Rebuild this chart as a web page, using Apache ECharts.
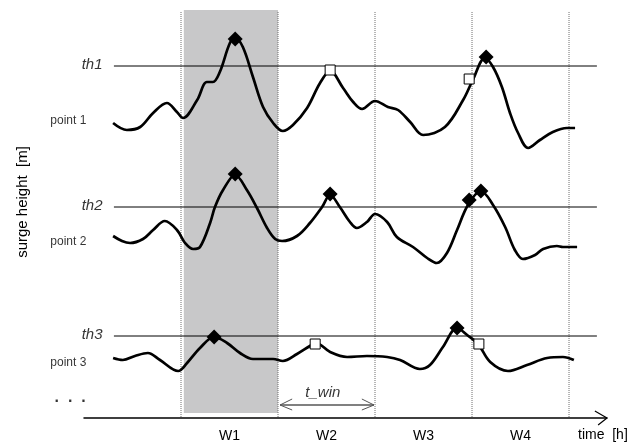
<!DOCTYPE html>
<html><head><meta charset="utf-8">
<script src="https://cdn.jsdelivr.net/npm/echarts@6/dist/echarts.min.js"></script>
<style>html,body{margin:0;padding:0;background:#fff}#c{width:643px;height:445px}</style>
</head><body><div id="c"></div>
<script>
// ---- data (time in hours, surge height in m; schematic) ----
const windowBounds = [0, 24, 48, 72, 96];
const windowLabels = ['W1', 'W2', 'W3', 'W4'];
const thresholds = [35.2, 21.1, 8.2];
const thresholdNames = ['th1', 'th2', 'th3'];
const pointNames = ['point 1', 'point 2', 'point 3'];
const pointLevels = [29.7, 17.6, 5.5];
const thresholdSpan = [-16.6, 102.9];
const tWinSpan = [24.5, 47.75];
const shadedWindow = [0.7, 24];

const t1 = [-16.8,-13.4,-10.1,-6.9,-3.5,-1.0,0.5,4.0,6.4,7.9,9.6,12.1,13.4,15.3,17.8,20.3,22.8,25.2,27.7,31.2,34.4,36.9,40.1,42.6,44.8,48.0,51.2,53.7,56.7,59.9,65.3,69.8,72.2,75.2,77.2,79.4,81.4,83.4,85.9,88.8,92.0,95.5,97.5];
const h1 = [29.5,28.8,29.1,30.5,31.5,30.6,30.0,31.8,33.6,33.6,34.6,37.5,38.0,37.1,34.1,31.1,29.5,28.7,29.3,31.0,33.5,34.7,33.0,31.6,30.9,31.7,31.1,30.8,29.6,28.3,29.1,31.8,33.8,36.0,35.1,33.1,30.5,28.5,27.0,27.8,28.6,29.0,29.0];

const t2 = [-16.8,-14.6,-12.6,-9.4,-6.9,-4.0,-1.0,1.0,3.0,4.7,7.2,8.4,10.4,13.4,16.3,18.8,21.3,23.3,25.0,28.7,31.9,34.9,36.9,39.3,41.8,43.5,46.0,48.0,51.0,53.4,57.4,60.9,63.3,65.8,68.3,71.0,74.2,77.2,80.2,82.6,84.6,87.6,89.6,93.0,94.5,98.0];
const h2 = [18.2,17.7,17.5,17.9,18.8,19.7,18.8,17.5,16.9,17.1,19.5,21.1,22.8,24.3,22.8,21.0,19.0,17.9,17.7,18.2,19.5,21.1,22.3,21.1,19.6,19.0,19.6,20.4,19.6,18.1,17.1,16.0,15.5,16.5,18.8,21.3,22.7,21.3,19.1,16.8,15.9,16.3,16.9,17.2,17.1,17.1];

const t3 = [-16.8,-14.4,-11.4,-8.2,-5.2,-0.7,1.5,4.7,8.2,11.4,14.6,17.8,22.8,25.2,28.7,31.9,33.4,36.9,41.1,46.0,51.0,54.2,59.1,61.6,64.8,68.3,70.8,73.5,76.5,80.9,85.6,90.6,94.5,97.2];
const h3 = [6.0,5.8,6.2,6.5,5.8,4.7,5.5,7.0,8.1,7.5,6.5,5.9,5.9,5.7,6.4,7.2,7.5,6.6,6.1,6.2,6.1,5.8,4.9,5.3,7.1,9.0,8.3,7.4,5.6,4.7,5.3,6.0,6.1,5.8];

const peakT = [13.4, 75.5, 13.4, 36.9, 71.3, 74.2, 8.2, 68.3];
const peakH = [37.9, 36.1, 24.4, 22.4, 21.8, 22.7, 8.1, 9.0];
const belowT = [36.9, 71.3, 33.2, 73.7];
const belowH = [34.8, 33.9, 7.4, 7.4];

// ---- chart ----
const FONT = '"Liberation Sans", Arial, sans-serif';
const zip = (a, b) => a.map((v, i) => [v, b[i]]);
const chart = echarts.init(document.getElementById('c'));

const X_MIN = -24, X_MAX = 105.4, Y_MIN = 0, Y_MAX = 41;
const series = [];

// shaded window W1
series.push({
  type: 'line', data: [[shadedWindow[0], Y_MIN], [shadedWindow[0], Y_MIN]], symbol: 'none',
  lineStyle: { opacity: 0 }, z: 1, silent: true,
  markArea: { silent: true, itemStyle: { color: '#c8c8c9' },
    data: [[{ coord: [shadedWindow[0], 0.5] }, { coord: [shadedWindow[1], 40.8] }]] }
});
// window boundaries
windowBounds.forEach(b => series.push({
  type: 'line', data: [[b, 0.1], [b, 40.6]], symbol: 'none', silent: true, z: 2,
  lineStyle: { color: '#6e6e6e', width: 1, type: 'dotted' }
}));
// thresholds
thresholds.forEach(th => series.push({
  type: 'line', data: [[thresholdSpan[0], th], [thresholdSpan[1], th]], symbol: 'none', silent: true, z: 3,
  lineStyle: { color: '#000', width: 1 }
}));
// surge curves
[[t1, h1], [t2, h2], [t3, h3]].forEach(([t, h]) => series.push({
  type: 'line', data: zip(t, h), smooth: 0.35, symbol: 'none', silent: true, z: 4,
  lineStyle: { color: '#000', width: 2.7 }
}));
// peaks
series.push({ type: 'scatter', data: zip(peakT, peakH), symbol: 'diamond', symbolSize: 15,
  itemStyle: { color: '#000', opacity: 1 }, z: 6, silent: true });
series.push({ type: 'scatter', data: zip(belowT, belowH), symbol: 'rect', symbolSize: 10,
  itemStyle: { color: '#fff', borderColor: '#000', borderWidth: 1, opacity: 1 }, z: 7, silent: true });

// t_win arrow
const yArr = 1.3;
series.push({ type: 'line', data: [[tWinSpan[0], yArr], [tWinSpan[1], yArr]], symbol: 'none', silent: true, z: 5,
  lineStyle: { color: '#808080', width: 2 } });
series.push({ type: 'line', data: [[tWinSpan[0] + 3, yArr + 0.6], [tWinSpan[0], yArr], [tWinSpan[0] + 3, yArr - 0.5]],
  symbol: 'none', silent: true, z: 5, lineStyle: { color: '#555', width: 1 } });
series.push({ type: 'line', data: [[tWinSpan[1] - 3, yArr + 0.6], [tWinSpan[1], yArr], [tWinSpan[1] - 3, yArr - 0.5]],
  symbol: 'none', silent: true, z: 5, lineStyle: { color: '#555', width: 1 } });
// time axis arrow head
series.push({ type: 'line', data: [[X_MAX - 3, 0.7], [X_MAX, 0], [X_MAX - 2.2, -0.7]], clip: false,
  symbol: 'none', silent: true, z: 5, lineStyle: { color: '#000', width: 1.2 } });

// text annotations
const txt = (x, y, text, pos, style) => ({ value: [x, y],
  label: Object.assign({ show: true, formatter: text, position: pos, distance: 0, color: '#000', fontFamily: FONT }, style) });
const notes = [];
thresholds.forEach((th, i) => notes.push(txt(-19.3, th + 0.1, thresholdNames[i], 'left', { fontSize: 15, fontStyle: 'italic' })));
pointLevels.forEach((p, i) => notes.push(txt(-23.3, p, pointNames[i], 'left', { fontSize: 12 })));
notes.push(txt(-31.4, 2.0, '.  .  .', 'right', { fontSize: 16, fontWeight: 'bold' }));
notes.push(txt(35.1, 2.5, 't_win', 'inside', { fontSize: 15, fontStyle: 'italic' }));
series.push({ type: 'scatter', data: notes, symbolSize: 1, itemStyle: { color: 'rgba(0,0,0,0)' },
  clip: false, silent: true, z: 8 });

const mids = windowLabels.map((l, i) => (windowBounds[i] + windowBounds[i + 1]) / 2);

chart.setOption({
  animation: false,
  backgroundColor: '#fff',
  grid: { left: 84, right: 36, top: 8, bottom: 27, containLabel: false },
  xAxis: {
    type: 'value', min: X_MIN, max: X_MAX, interval: 12,
    splitLine: { show: false }, axisTick: { show: false },
    axisLine: { show: true, onZero: false, lineStyle: { color: '#000', width: 1.5 } },
    axisLabel: {
      margin: 11, color: '#000', fontSize: 14, fontFamily: FONT, showMinLabel: false, showMaxLabel: false,
      formatter: v => { const k = mids.findIndex(m => Math.abs(m - v) < 1e-6); return k >= 0 ? windowLabels[k] : ''; }
    }
  },
  yAxis: { type: 'value', min: Y_MIN, max: Y_MAX, show: false },
  graphic: [
    { type: 'text', x: 23, y: 202, rotation: Math.PI / 2, silent: true,
      style: { text: 'surge height  [m]', fontSize: 15, fontFamily: FONT, fill: '#000',
        align: 'center', verticalAlign: 'middle', textAlign: 'center', textVerticalAlign: 'middle' } },
    { type: 'text', x: 578, y: 435, silent: true,
      style: { text: 'time  [h]', fontSize: 14, fontFamily: FONT, fill: '#000',
        align: 'left', verticalAlign: 'middle', textAlign: 'left', textVerticalAlign: 'middle' } }
  ],
  series
});
</script></body></html>
